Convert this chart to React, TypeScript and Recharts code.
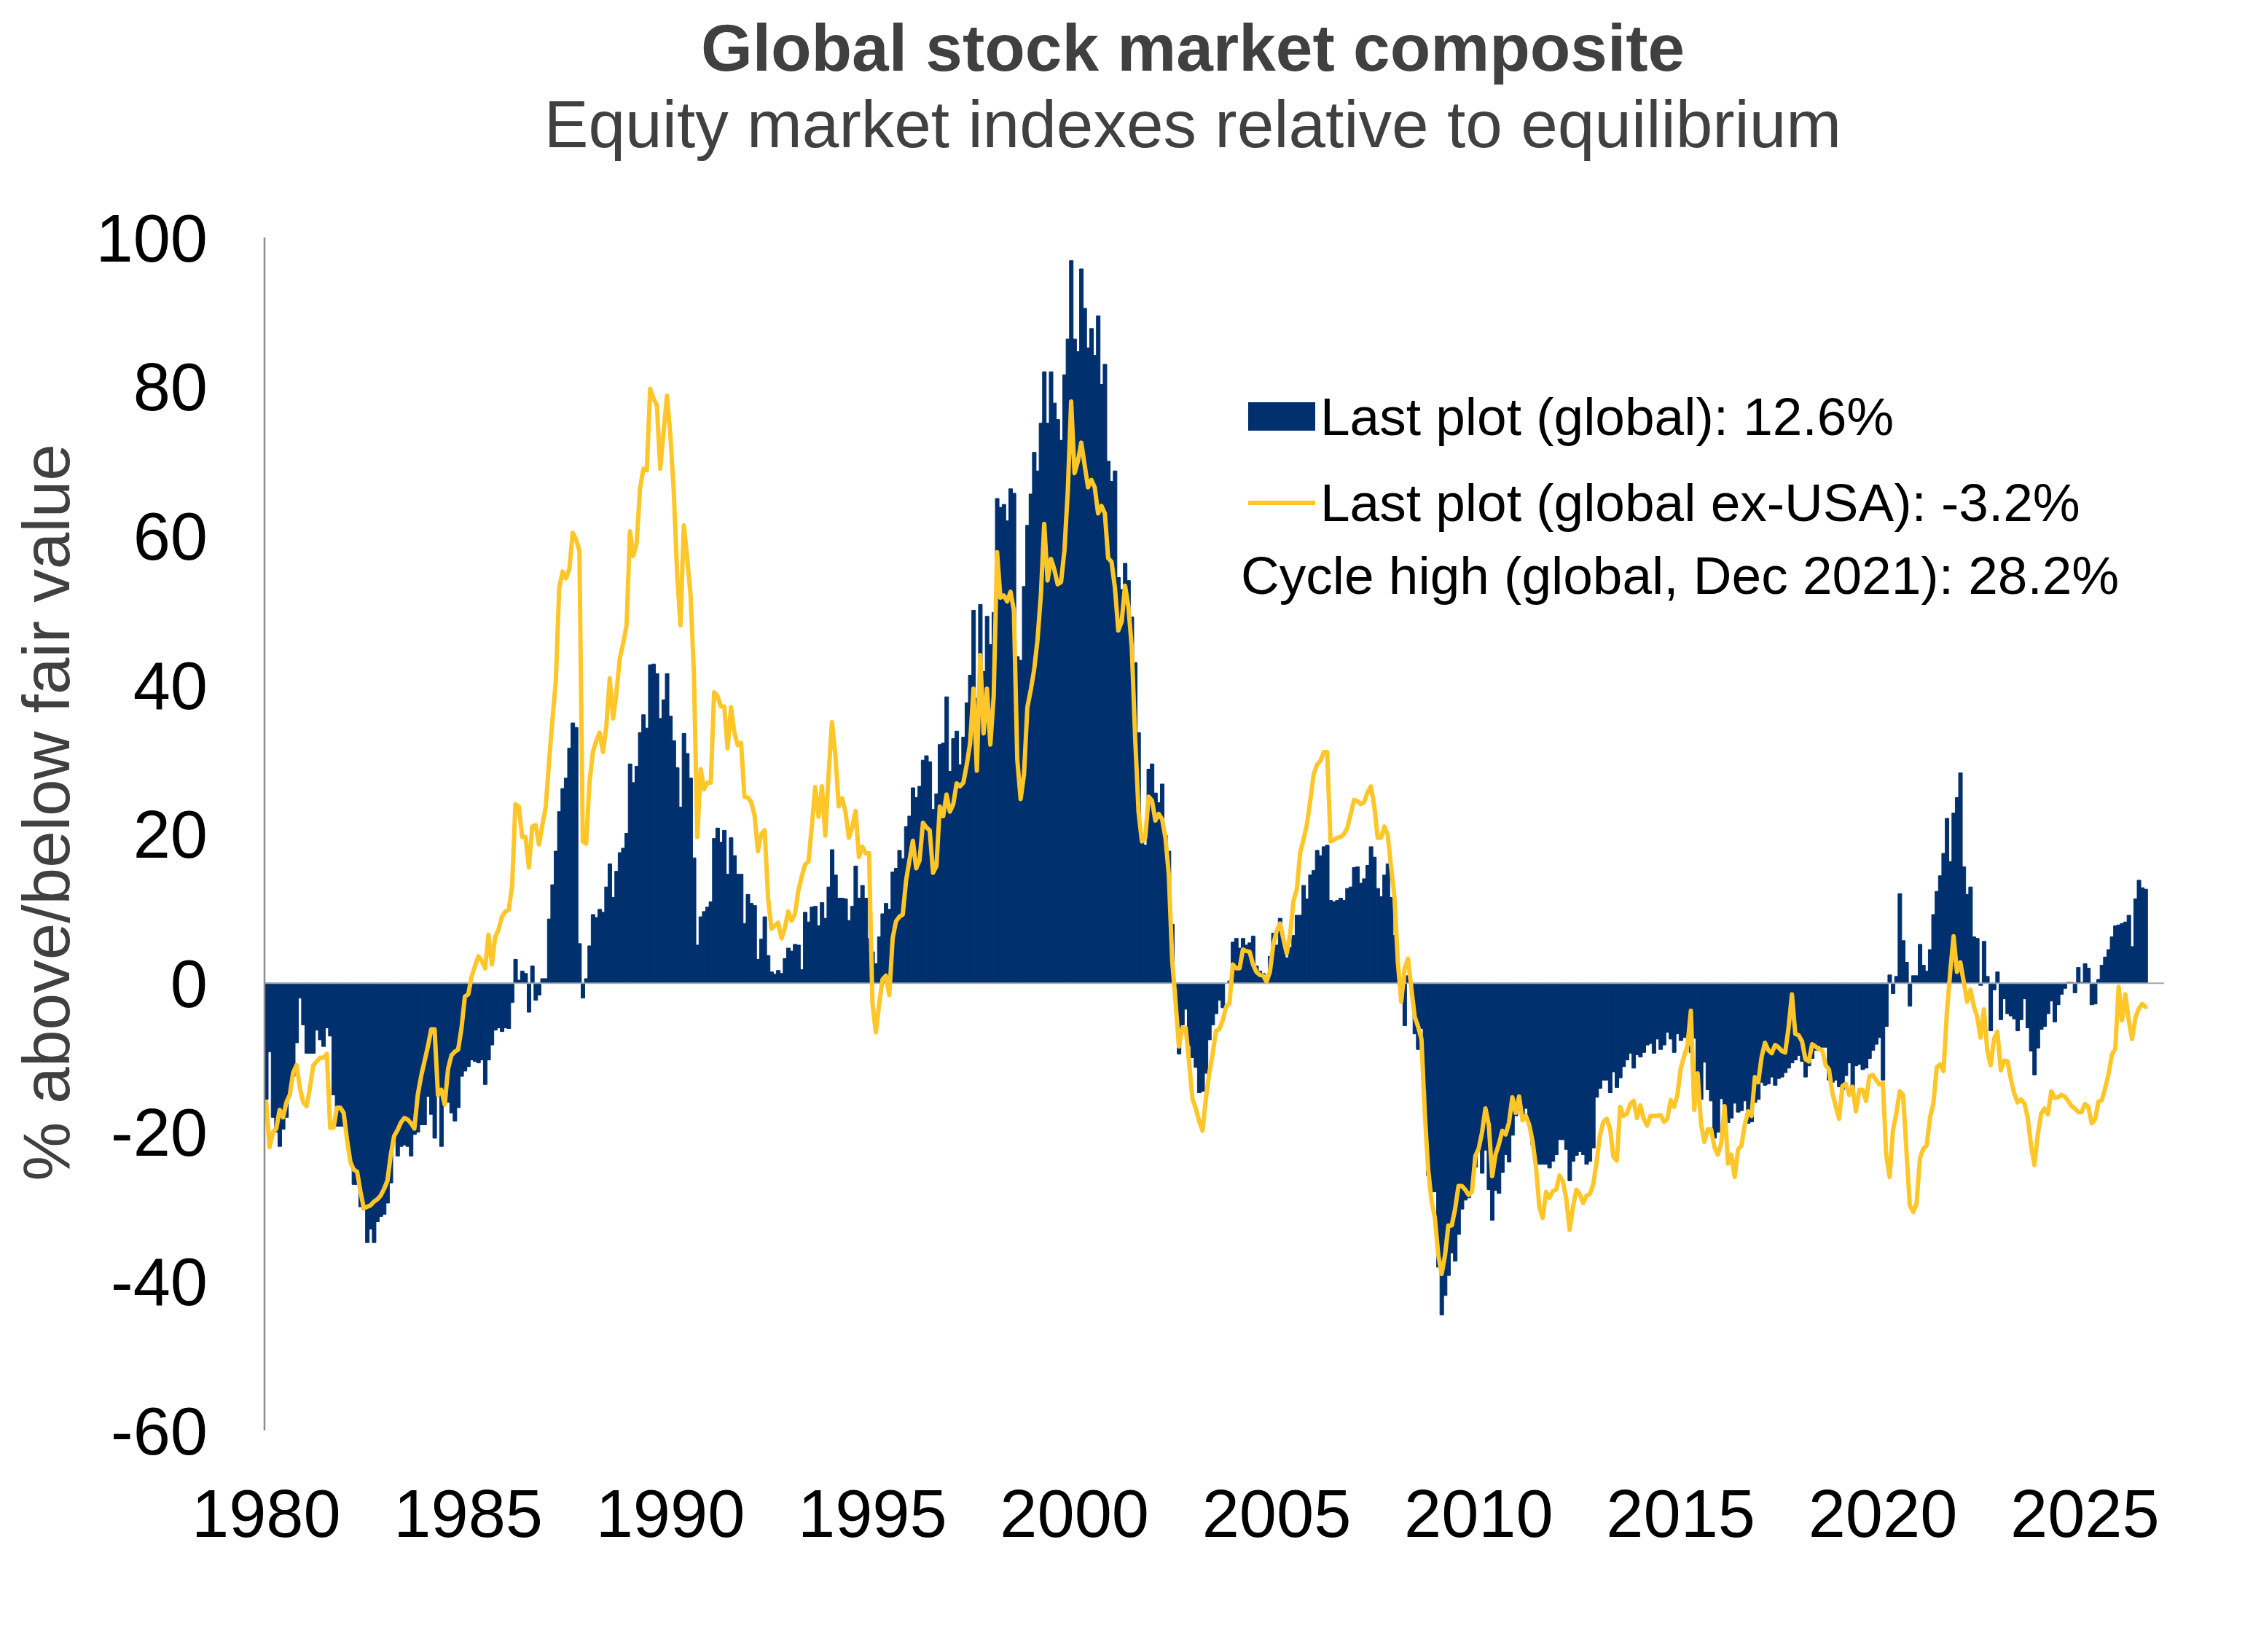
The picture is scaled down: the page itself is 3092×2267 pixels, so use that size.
import React from 'react';
import { Bar, ComposedChart, Line, ReferenceLine, XAxis, YAxis } from 'recharts';

// monthly readings, Jan 1980 onwards (percent above/below fair value)
const startYear = 1980;
const axisEndYear = 2026;
const yearTicks = [1980, 1985, 1990, 1995, 2000, 2005, 2010, 2015, 2020, 2025];
const valueTicks = [-60, -40, -20, 0, 20, 40, 60, 80, 100];

const global1980s = [
  -15.6, -9.2, -18, -20, -21.9, -19.6, -18, -15, -12.5, -8, -2, -5.6,
  -9.4, -9.4, -9.4, -6.3, -7.6, -8.5, -6, -7.1, -15, -19.2, -19.2, -19.2,
  -20, -24, -27, -27, -30, -30.4, -34.8, -33, -34.8, -32, -31.3, -31,
  -29.5, -26.8, -20.3, -23.2, -21.9, -21.7, -21.9, -23.2, -20.3, -20, -19, -19,
  -15.2, -17.6, -20.8, -15, -21.9, -15.8, -16, -17.4, -18.5, -16.7, -12.5, -11.8,
  -11.2, -10.3, -10.5, -10.7, -10.3, -13.6, -10.3, -8.3, -6.3, -6, -6.5, -6,
  -6.1, -2.6, 3.2, 0.4, 1.6, 1.3, -3.9, 2.3, -2.3, -1.6, 0.6, 0.6,
  8.6, 13.2, 17.7, 23, 26.1, 27.5, 31.5, 34.9, 34.3, 5.3, -2, 0.6,
  5, 9.2, 8.8, 9.9, 9.5, 12.9, 16, 11.5, 15, 17.5, 18.1, 20.1,
  29.4, 26.9, 29.1, 33.6, 36, 34.2, 42.7, 42.8, 41.5, 35.5, 38, 41.5,
];
const global1990s = [
  35.8, 32.5, 28.9, 23.6, 33.5, 30.8, 27.5, 16.8, 5.1, 8.9, 9.6, 10.2,
  10.9, 19.4, 20.8, 18.9, 20.5, 14.6, 19.5, 17.1, 14.6, 14.6, 8, 11.9,
  10.7, 10.4, 3.2, 5.9, 8.9, 3.7, 1.5, 1.2, 1.7, 1.3, 3.3, 4.7,
  4.3, 5.2, 5.1, 1.8, 9.5, 8.2, 10.2, 10.3, 7.7, 10.8, 8.7, 12.9,
  17.9, 14.5, 11.4, 11.4, 11.3, 8.4, 10.3, 15.7, 11.4, 13.1, 11.4, 6,
  4.2, 2.6, 6.2, 9.3, 10.7, 9.9, 14.9, 15.4, 17.8, 16.7, 21, 22.4,
  26.2, 24.9, 26.4, 29.9, 30.5, 29.7, 23.3, 25.4, 32, 32.2, 38.4, 28.4,
  32.8, 33.8, 29.3, 33, 37.6, 41.3, 50, 38.2, 50.8, 41.8, 49.2, 45.4,
  49.7, 65, 63.8, 64.2, 62, 66.3, 65.7, 43.8, 43.3, 53.2, 61.4, 65.6,
  71.2, 68.7, 75.1, 82, 75.1, 82, 77.8, 75.6, 72.8, 81.6, 86.4, 96.9,
];
const global2000s = [
  86.4, 84.7, 95.8, 90.5, 85.2, 87.8, 84.2, 89.5, 80.3, 83, 70, 67.3,
  68.7, 54.4, 52.8, 56.3, 54, 49.1, 43, 33.6, 19.3, 18.5, 28.7, 29.4,
  25.5, 24.2, 26.7, 19.8, 17.7, 7.9, -0.7, -9.5, -5.6, -3.5, -8.4, -10,
  -11.3, -14.7, -14.5, -12.1, -7.6, -5.6, -4.1, -2.3, -3.3, 0, 0.3, 5.5,
  6, 4.7, 6, 5.1, 5.4, 6.3, 2.3, 1.6, 1.3, 0.7, 3.6, 6.7,
  5.1, 8.7, 5.1, 3.4, 4.8, 6.4, 9.1, 9.1, 13.1, 11.3, 14.5, 15.1,
  17.8, 17.1, 18.3, 18.5, 11.1, 10.9, 11.1, 11.4, 11.1, 12.7, 12.9, 15.5,
  15.6, 13.4, 14, 15.8, 18.3, 16.9, 12.7, 11.6, 14.5, 16, 11.5, 6.4,
  2.1, -2.2, -5.7, 1, -0.1, -6.8, -8.9, -6.1, -14.3, -25.8, -28, -28,
  -38.1, -44.5, -41.9, -39.2, -36.2, -37.3, -33.7, -30.3, -29.1, -28.8, -27.4, -24.7,
];
const global2010s = [
  -22.4, -25.5, -22.4, -27.7, -31.8, -27.8, -28.2, -25.4, -23, -24, -20.4, -17.8,
  -17.1, -17.6, -16.8, -19, -21.7, -24.1, -24.3, -24.3, -24.3, -24.8, -23.9, -23,
  -21, -21, -22.3, -26.5, -23.9, -23.1, -22.6, -23, -24.3, -23.9, -22.1, -15.3,
  -14.1, -13, -13, -14.7, -11.9, -14, -12.7, -11.2, -10.3, -9.4, -11.4, -9.6,
  -9.9, -9.3, -8.3, -8.1, -9.4, -7.5, -8.9, -8.3, -6.6, -7.5, -9.3, -6.8,
  -7.7, -7.3, -7.2, -9.3, -7.4, -12.5, -15.6, -10.6, -14.3, -15.8, -20.8, -20,
  -15.5, -17.1, -18.7, -18.1, -16.1, -17.3, -17.1, -15.8, -18.8, -18.6, -16, -15.6,
  -13.3, -13.7, -13.5, -12.6, -13.7, -12.8, -12.6, -12, -11.4, -10.7, -10.3, -9.7,
  -10.5, -12.6, -11.1, -10.1, -9, -8.4, -8.6, -8.6, -13, -13.3, -13, -13.9,
  -14.3, -12.4, -10.7, -14.3, -11.1, -10.9, -11.6, -11.4, -10.1, -9, -8.2, -7.3,
];
const global2020s = [
  -13, -5.8, 1.1, -1.4, 0.9, 12, 5.7, 2.8, -3.1, 1, 1, 5.2,
  2.4, 1.6, 4.5, 9.2, 12.3, 14.4, 17.4, 22.1, 16.3, 22.8, 24.9, 28.2,
  15.6, 11.9, 12.9, 6.2, 6, -0.3, 5.6, 0.9, -6.4, -0.9, 1.5, -4.9,
  -2.1, -4.1, -4.4, -4.8, -6.4, -4.9, -2.1, -6, -9.1, -12.3, -8.7, -6.2,
  -5.8, -4.1, -2.4, -5.2, -2.9, -1.5, -0.7, 0.1, 0.1, -1.3, 2.1, 0.1,
  2.6, 2, -2.9, -2.8, 0.5, 2.4, 3.5, 4.5, 6.2, 7.7, 7.8, 8,
  8.2, 9.1, 4.9, 11.3, 13.8, 12.8, 12.6,
];

const exUsa1980s = [
  -16, -22, -20, -19.5, -17, -18, -16, -15, -12, -11, -14, -16,
  -16.5, -14, -11, -10.5, -10, -10, -9.5, -19.4, -19.4, -16.7, -16.7, -17.4,
  -21, -24, -25, -25.3, -28, -30.2, -30, -29.8, -29.3, -29, -28.5, -27.6,
  -26.5, -23, -20.5, -19.7, -18.7, -18.1, -18.3, -18.8, -19.5, -15, -12.5, -10.5,
  -8.5, -6.2, -6.2, -15, -14.3, -16.3, -11.5, -9.7, -9.2, -8.9, -6, -1.8,
  -1.5, 0.9, 2.3, 3.6, 3, 2, 6.5, 2.5, 6.2, 7.2, 8.9, 9.6,
  9.8, 13, 24, 23.7, 19.6, 19.6, 15.5, 21, 21.2, 18.6, 21.2, 23.6,
  29.8, 35.4, 40.6, 53, 55.2, 54.3, 55.5, 60.4, 59.5, 58, 19, 18.7,
  27, 31, 32.5, 33.6, 31, 34.5, 40.9, 35.5, 39, 43.6, 45.6, 48,
  60.6, 57.3, 59, 66.4, 69, 68.8, 79.7, 78.4, 77.5, 69, 74, 78.8,
];
const exUsa1990s = [
  73.5, 66, 55, 48, 61.4, 57, 52, 41.5, 19.6, 28.7, 26, 26.9,
  26.9, 39, 38.5, 37.1, 37.1, 31.5, 37, 33.6, 31.9, 32.2, 25, 24.9,
  24.3, 22.5, 17.7, 20, 20.5, 11.5, 7.3, 7.7, 8.1, 6, 7.4, 9.6,
  8.4, 9.3, 12.4, 14.3, 15.9, 16.3, 21, 26.3, 22.3, 26.4, 19.8, 28.2,
  35, 30.5, 23.7, 24.8, 23, 19.5, 20.9, 23.1, 16.9, 18.3, 17.4, 17.4,
  -2.7, -6.6, -2.8, 0.5, 1, -1.6, 6, 8.3, 8.9, 9.2, 13.8, 16.5,
  19.1, 15.4, 16.5, 21.5, 20.9, 20.5, 14.8, 15.7, 23.7, 22.4, 25.3, 23,
  24, 26.8, 26.4, 26.9, 29.3, 32.2, 39.5, 28.5, 44, 33.5, 39.5, 32,
  38.5, 57.8, 51.7, 52, 51.2, 52.5, 50, 30, 24.7, 28, 37, 39.3,
  42, 46, 52, 61.6, 54, 56.9, 55.5, 53.5, 53.8, 58, 66, 78,
];
const exUsa2000s = [
  68.4, 70, 72.5, 69.5, 66.5, 67.5, 66.5, 63, 64, 63, 57, 56.5,
  53, 47.3, 48.5, 53.3, 50.5, 45, 33, 23, 19, 19.5, 25, 24.5,
  21.8, 22.7, 22, 19.5, 14.5, 3, -2.5, -8.5, -6, -6, -10.5, -15.5,
  -16.8, -18.5, -19.8, -15.5, -12.1, -9.5, -6.4, -6.2, -5, -3.2, -2.7, 2.5,
  2, 2, 4.5, 4.3, 4.2, 2.5, 1.5, 1.1, 1, 0.2, 1.5, 5.1,
  7, 8, 6, 4, 6.5, 11, 12.6, 17.5, 19.3, 21.3, 24.5, 28,
  29.3, 29.8, 31, 31, 19, 19.2, 19.5, 19.6, 20, 20.8, 22.7, 24.6,
  24.4, 24, 24.3, 25.6, 26.4, 23.7, 19.5, 19.5, 21, 19.9, 15.5, 11.5,
  2.8, -2.5, 2, 3.3, -0.7, -4.5, -5.8, -7.5, -17.5, -25, -29.2, -31.5,
  -36.5, -39, -36.5, -32.5, -32.5, -30.3, -27.2, -27.2, -27.7, -28.4, -28, -23.2,
];
const exUsa2010s = [
  -22.2, -20, -16.8, -19, -25.9, -23, -21.6, -19.8, -20.3, -18.7, -15.3, -17.4,
  -15.2, -18.4, -17.8, -19, -21.2, -24.6, -30, -31.5, -28, -28.8, -27.9, -27.7,
  -25.8, -26.6, -28.9, -33.1, -30, -27.7, -28.3, -29.5, -28.5, -28.3, -27, -24,
  -20.4, -18.6, -18.2, -19.5, -23.3, -23.8, -16.6, -17.8, -17.5, -16.2, -15.8, -18.1,
  -16.4, -18.2, -19.1, -17.8, -17.8, -17.8, -17.7, -18.6, -18.2, -15.7, -16.6, -15,
  -11.4, -9.8, -8.3, -3.7, -17, -12.1, -18.8, -21.3, -19.6, -19.6, -22, -23,
  -21.5, -16.5, -24.2, -23, -26, -22.3, -21.8, -19, -17.2, -17.8, -12.6, -13.3,
  -9.9, -8, -9, -9.4, -8.3, -8.6, -9.1, -9.3, -6, -1.5, -6.8, -7,
  -7.8, -10.2, -10.5, -8.2, -8.5, -8.9, -9, -11, -11.6, -14.7, -16.5, -18.2,
  -13.8, -13.5, -15, -13.9, -17.2, -14.3, -14.3, -15.8, -12.5, -12.3, -13, -13.6,
];
const exUsa2020s = [
  -13.4, -23, -26, -19.7, -17.5, -14.5, -15, -22.5, -29.8, -30.7, -29.6, -23.5,
  -22.2, -21.8, -18, -16.1, -11.3, -10.9, -11.8, -4, 1.5, 6.3, 1.5, 2.8,
  0.2, -2.5, -0.9, -3.1, -4.5, -7.3, -3.5, -9, -11, -7.5, -6.5, -11.7,
  -10.4, -10.5, -12.9, -14.8, -16, -15.6, -16.1, -18, -21.8, -24.4, -20.3, -17.5,
  -16.8, -17.6, -14.5, -15.4, -15.3, -15, -15.2, -15.8, -16.5, -16.8, -17.3, -17.3,
  -16.2, -16.6, -18.8, -18.3, -15.9, -15.7, -14.1, -12.2, -9.6, -8.8, -0.5, -5,
  -1.5, -5, -7.5, -4.6, -3.4, -2.8, -3.2,
];

const globalSeries = [...global1980s, ...global1990s, ...global2000s, ...global2010s, ...global2020s];
const exUsaSeries = [...exUsa1980s, ...exUsa1990s, ...exUsa2000s, ...exUsa2010s, ...exUsa2020s];

const monthCount = (axisEndYear - startYear + 1) * 12;
const data = Array.from({ length: monthCount }, (_, i) => ({
  month: `${startYear + Math.floor(i / 12)}-${String((i % 12) + 1).padStart(2, '0')}`,
  global: globalSeries[i],
  exUsa: exUsaSeries[i],
}));
const monthTicks = yearTicks.map((y) => `${y}-01`);

const NAVY = '#00306E';
const GOLD = '#FFC629';
const FONT = '"Liberation Sans", Arial, sans-serif';
const GREY_TEXT = '#404040';

export default function App(): JSX.Element {
  return (
    <div style={{ position: 'relative', width: 3092, height: 2267, background: '#fff', fontFamily: FONT }}>
      <style>{'body{margin:0}'}</style>
      <ComposedChart
        width={3092}
        height={2267}
        data={data}
        margin={{ top: 326, right: 122, bottom: 303, left: 362 }}
        barCategoryGap={0}
        barGap={0}
      >
        <XAxis
          dataKey='month'
          ticks={monthTicks}
          interval={0}
          tickFormatter={(m: string) => m.slice(0, 4)}
          axisLine={false}
          tickLine={false}
          tickSize={0}
          tickMargin={81}
          height={1}
          tick={{ fontSize: 92, fill: '#000', fontFamily: FONT }}
        />
        <YAxis
          type='number'
          domain={[-60, 100]}
          ticks={valueTicks}
          interval={0}
          width={1}
          tickSize={0}
          tickMargin={78}
          tickLine={false}
          axisLine={{ stroke: '#8c8c8c', strokeWidth: 2.5 }}
          tick={{ fontSize: 92, fill: '#000', fontFamily: FONT }}
        />
        <Bar dataKey='global' fill={NAVY} stroke={NAVY} strokeWidth={1} isAnimationActive={false} />
        <ReferenceLine y={0} stroke='#a6a6a6' strokeWidth={2} />
        <Line
          type='linear'
          dataKey='exUsa'
          stroke={GOLD}
          strokeWidth={6}
          strokeLinejoin='round'
          strokeLinecap='round'
          dot={false}
          activeDot={false}
          isAnimationActive={false}
        />
      </ComposedChart>

      <div style={{ position: 'absolute', left: 1637, top: 20, transform: 'translateX(-50%)', whiteSpace: 'nowrap', fontSize: 91, lineHeight: '91px', fontWeight: 'bold', color: GREY_TEXT }}>
        Global stock market composite
      </div>
      <div style={{ position: 'absolute', left: 1637, top: 125, transform: 'translateX(-50%)', whiteSpace: 'nowrap', fontSize: 91, lineHeight: '91px', color: GREY_TEXT }}>
        Equity market indexes relative to equilibrium
      </div>
      <div style={{ position: 'absolute', left: 63, top: 1115, transform: 'translate(-50%, -50%) rotate(-90deg)', whiteSpace: 'nowrap', fontSize: 91, lineHeight: '91px', color: GREY_TEXT }}>
        % above/below fair value
      </div>

      <div style={{ position: 'absolute', left: 1713, top: 552, width: 92, height: 39, background: NAVY }} />
      <div style={{ position: 'absolute', left: 1812, top: 571 - 36, whiteSpace: 'nowrap', fontSize: 73, lineHeight: '73px', color: '#000' }}>
        Last plot (global): 12.6%
      </div>
      <div style={{ position: 'absolute', left: 1713, top: 687, width: 92, height: 6, background: GOLD }} />
      <div style={{ position: 'absolute', left: 1812, top: 689 - 36, whiteSpace: 'nowrap', fontSize: 73, lineHeight: '73px', color: '#000' }}>
        Last plot (global ex-USA): -3.2%
      </div>
      <div style={{ position: 'absolute', left: 1703, top: 789 - 36, whiteSpace: 'nowrap', fontSize: 73, lineHeight: '73px', color: '#000' }}>
        Cycle high (global, Dec 2021): 28.2%
      </div>
    </div>
  );
}
